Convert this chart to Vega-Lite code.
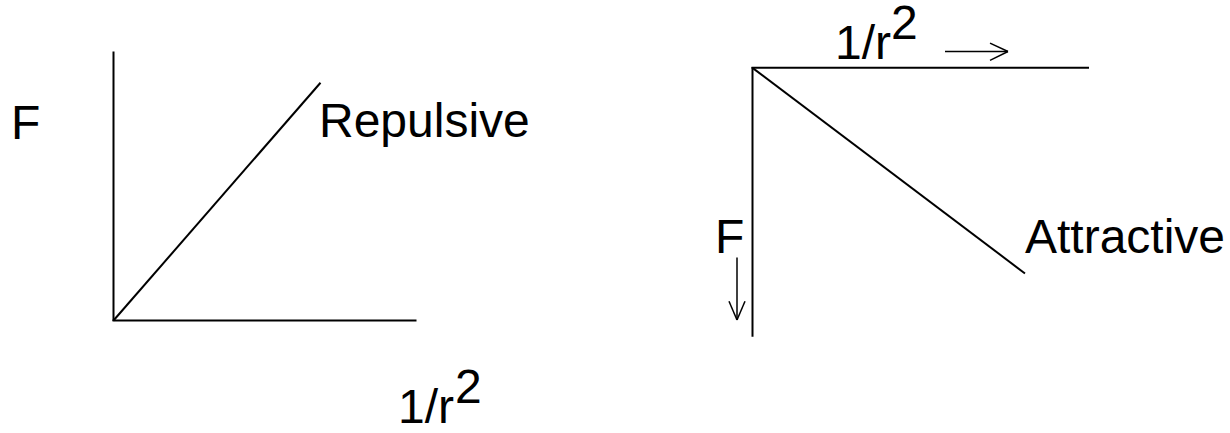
{
  "$schema": "https://vega.github.io/schema/vega-lite/v6.json",
  "width": 1230,
  "height": 433,
  "autosize": {"type": "fit", "contains": "padding"},
  "padding": 0,
  "background": "white",
  "config": {"view": {"stroke": null}},
  "datasets": {
    "segments": [
      {"panel": "repulsive", "part": "F axis", "kind": "line", "x": 113.5, "y": 52, "x2": 113.5, "y2": 324},
      {"panel": "repulsive", "part": "1/r2 axis", "kind": "line", "x": 112.5, "y": 323.5, "x2": 416.5, "y2": 323.5},
      {"panel": "repulsive", "part": "F vs 1/r2", "kind": "line", "x": 113.5, "y": 323.5, "x2": 320.5, "y2": 83.5},
      {"panel": "attractive", "part": "F axis", "kind": "line", "x": 752.5, "y": 67.5, "x2": 752.5, "y2": 340},
      {"panel": "attractive", "part": "1/r2 axis", "kind": "line", "x": 751.5, "y": 68.5, "x2": 1089, "y2": 68.5},
      {"panel": "attractive", "part": "F vs 1/r2", "kind": "line", "x": 752.5, "y": 68.5, "x2": 1025, "y2": 276},
      {"panel": "attractive", "part": "right arrow shaft", "kind": "arrow", "x": 945, "y": 52, "x2": 1008, "y2": 52},
      {"panel": "attractive", "part": "right arrow head up", "kind": "arrow", "x": 1008, "y": 52, "x2": 990, "y2": 43.5},
      {"panel": "attractive", "part": "right arrow head down", "kind": "arrow", "x": 1008, "y": 52, "x2": 990, "y2": 61},
      {"panel": "attractive", "part": "down arrow shaft", "kind": "arrow", "x": 737, "y": 260, "x2": 737, "y2": 323},
      {"panel": "attractive", "part": "down arrow head left", "kind": "arrow", "x": 737, "y": 323, "x2": 729, "y2": 304},
      {"panel": "attractive", "part": "down arrow head right", "kind": "arrow", "x": 737, "y": 323, "x2": 745, "y2": 304}
    ],
    "labels": [
      {"panel": "repulsive", "label": "F", "x": 11, "y": 140},
      {"panel": "repulsive", "label": "Repulsive", "x": 319, "y": 138},
      {"panel": "repulsive", "label": "1/r", "x": 398, "y": 427},
      {"panel": "repulsive", "label": "2", "x": 455, "y": 407},
      {"panel": "attractive", "label": "1/r", "x": 835, "y": 60},
      {"panel": "attractive", "label": "2", "x": 891, "y": 39},
      {"panel": "attractive", "label": "F", "x": 715, "y": 255},
      {"panel": "attractive", "label": "Attractive", "x": 1025, "y": 255}
    ]
  },
  "layer": [
    {
      "data": {"name": "segments"},
      "transform": [{"filter": "datum.kind === 'line'"}],
      "mark": {"type": "rule", "color": "black", "strokeWidth": 2, "strokeCap": "butt"},
      "encoding": {
        "x": {"field": "x", "type": "quantitative", "scale": {"domain": [0, 1230], "nice": false, "zero": false}, "axis": null},
        "y": {"field": "y", "type": "quantitative", "scale": {"domain": [0, 433], "reverse": true, "nice": false, "zero": false}, "axis": null},
        "x2": {"field": "x2"},
        "y2": {"field": "y2"}
      }
    },
    {
      "data": {"name": "segments"},
      "transform": [{"filter": "datum.kind === 'arrow'"}],
      "mark": {"type": "rule", "color": "black", "strokeWidth": 1.5, "strokeCap": "butt"},
      "encoding": {
        "x": {"field": "x", "type": "quantitative", "scale": {"domain": [0, 1230], "nice": false, "zero": false}, "axis": null},
        "y": {"field": "y", "type": "quantitative", "scale": {"domain": [0, 433], "reverse": true, "nice": false, "zero": false}, "axis": null},
        "x2": {"field": "x2"},
        "y2": {"field": "y2"}
      }
    },
    {
      "data": {"name": "labels"},
      "mark": {"type": "text", "align": "left", "baseline": "alphabetic", "font": "Liberation Sans", "fontSize": 48, "color": "black"},
      "encoding": {
        "x": {"field": "x", "type": "quantitative", "scale": {"domain": [0, 1230], "nice": false, "zero": false}, "axis": null},
        "y": {"field": "y", "type": "quantitative", "scale": {"domain": [0, 433], "reverse": true, "nice": false, "zero": false}, "axis": null},
        "text": {"field": "label"}
      }
    }
  ]
}
